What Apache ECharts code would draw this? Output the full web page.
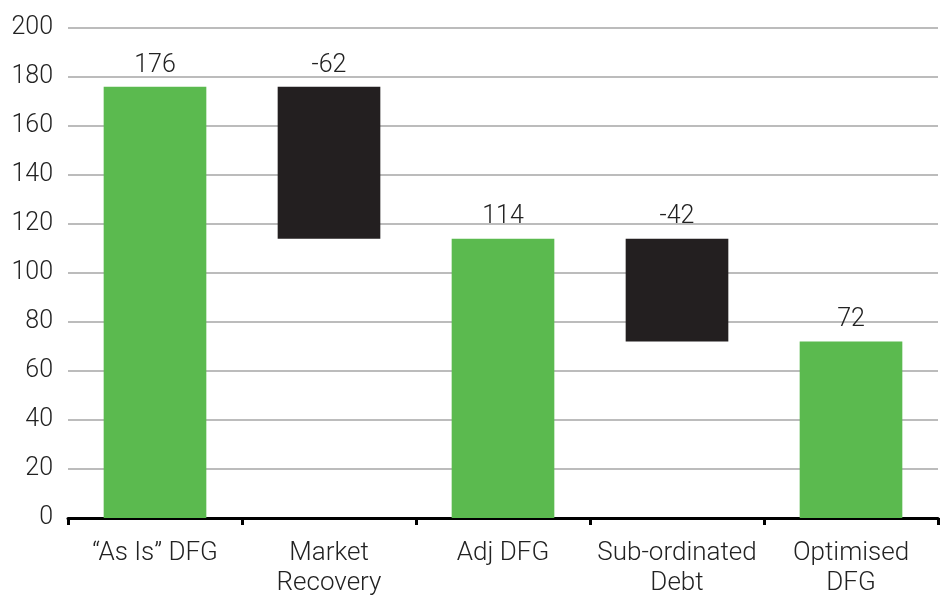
<!DOCTYPE html>
<html>
<head>
<meta charset="utf-8">
<script src="https://cdn.jsdelivr.net/npm/echarts@6/dist/echarts.min.js"></script>
<style>
  html, body { margin: 0; padding: 0; background: #fff; }
  #chart { width: 940px; height: 598px; }
</style>
</head>
<body>
<div id="chart"></div>
<script>
// Waterfall: totals are drawn from zero, changes float between running totals
const categories = ['\u201CAs Is\u201D DFG', 'Market\nRecovery', 'Adj DFG', 'Sub-ordinated\nDebt', 'Optimised\nDFG'];
const values = [176, -62, 114, -42, 72];
const isTotal = [true, false, true, false, true];
const yTicks = { min: 0, max: 200, interval: 20 };

const GREEN = '#5bba4f';
const DARK = '#231f20';
const FONT = 'Roboto';

// floating base and visible height for each bar
const baseData = [];
const barData = [];
let running = 0;
values.forEach((v, i) => {
  if (isTotal[i]) {
    running = v;
    baseData.push(0);
    barData.push({ value: v, itemStyle: { color: GREEN } });
  } else {
    const next = running + v;
    baseData.push(Math.min(running, next));
    barData.push({ value: Math.abs(v), itemStyle: { color: DARK } });
    running = next;
  }
});

const chart = echarts.init(document.getElementById('chart'), null, { renderer: 'canvas' });
chart.setOption({
  animation: false,
  grid: { left: 68, right: 2, top: 28, bottom: 74, containLabel: false },
  xAxis: {
    type: 'category',
    data: categories,
    axisLine: { lineStyle: { color: '#000', width: 3 } },
    axisTick: { show: true, length: 7, lineStyle: { color: '#000', width: 3 } },
    axisLabel: {
      color: '#222', fontFamily: FONT, fontWeight: 300, fontSize: 26,
      lineHeight: 30, margin: 20, interval: 0
    }
  },
  yAxis: {
    type: 'value',
    min: yTicks.min, max: yTicks.max, interval: yTicks.interval,
    axisLine: { show: false },
    axisTick: { show: false },
    splitLine: { lineStyle: { color: '#a6a6a6', width: 1.5 } },
    axisLabel: { color: '#222', fontFamily: FONT, fontWeight: 300, fontSize: 25, margin: 15 }
  },
  series: [
    {
      type: 'bar', stack: 'wf', data: baseData, barWidth: '59%',
      itemStyle: { color: 'transparent' }, silent: true
    },
    {
      type: 'bar', stack: 'wf', barWidth: '59%',
      data: barData,
      label: {
        show: true, position: 'top', distance: 9,
        color: '#222', fontFamily: FONT, fontWeight: 300, fontSize: 25,
        formatter: p => String(values[p.dataIndex])
      }
    }
  ]
});
</script>
</body>
</html>
